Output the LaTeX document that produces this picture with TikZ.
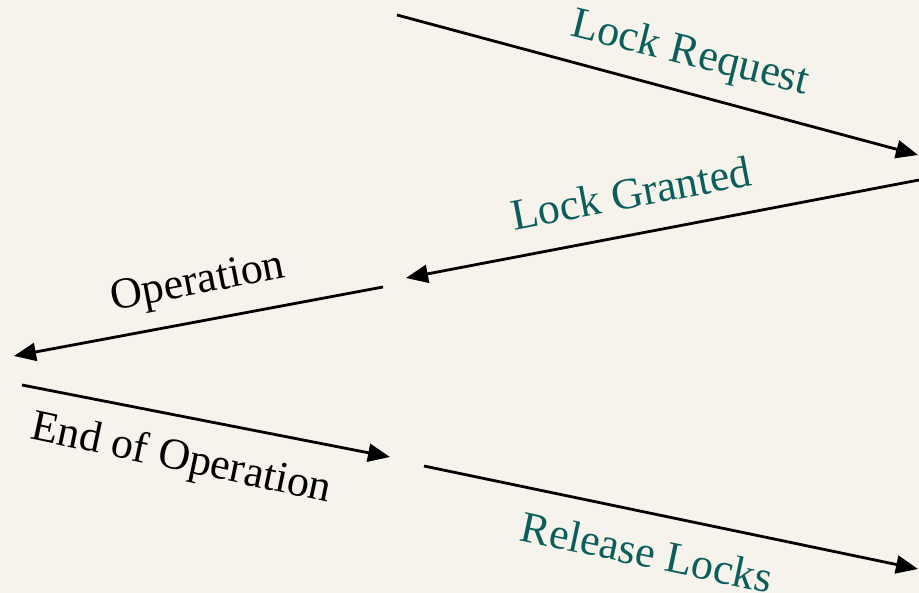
\documentclass[tikz,border=0pt]{standalone}
\usepackage{fontspec}
\setmainfont{Liberation Serif}
\usetikzlibrary{arrows.meta}
\definecolor{pagebg}{HTML}{F6F2EC}
\definecolor{labteal}{HTML}{0C5E5A}
\begin{document}
\begin{tikzpicture}[x=1pt,y=-1pt,
  msg/.style={line width=2.8pt, black, -{Triangle[length=22pt,width=18pt]}},
  lbl/.style={font=\fontsize{44}{52}\selectfont, inner sep=0pt},
  tealbl/.style={lbl, text=labteal}]
\fill[pagebg] (0,0) rectangle (919,593);
\useasboundingbox (0,0) rectangle (919,593);
% endpoints
\coordinate (a1) at (397,15);
\coordinate (a2) at (918,155);
\coordinate (b1) at (919,180);
\coordinate (b2) at (406,278);
\coordinate (c1) at (383,287);
\coordinate (c2) at (14,356);
\coordinate (d1) at (22,385);
\coordinate (d2) at (390,457);
\coordinate (e1) at (424,466);
\coordinate (e2) at (918,569);
% arrows
\draw[msg] (a1) -- (a2);
\draw[msg] (b1) -- (b2);
\draw[msg] (c1) -- (c2);
\draw[msg] (d1) -- (d2);
\draw[msg] (e1) -- (e2);
% labels
\node[tealbl, rotate=-14] (lr) at (690,55) {Lock Request};
\node[tealbl, rotate=10.8] (lg) at (631,193) {Lock Granted};
\node[lbl, rotate=10.9] (op) at (198,284) {Operation};
\node[lbl, rotate=-12] (eo) at (181,460) {End of Operation};
\node[tealbl, rotate=-12] (rl) at (647,552) {Release Locks};
\end{tikzpicture}
\end{document}
